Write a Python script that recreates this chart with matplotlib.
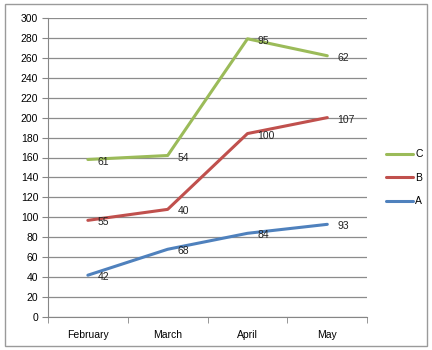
import numpy as np
import matplotlib as mpl
mpl.use('Agg')
import matplotlib.pyplot as plt

#------------------ Data ----------------------
months = ['February', 'March', 'April', 'May']
a_vals = [42, 68, 84, 93]
b_vals = [55, 40, 100, 107]
c_vals = [61, 54, 95, 62]

plt.rcParams['font.family'] = ['Liberation Sans', 'DejaVu Sans']

#------------------ Figure Setup ----------------------
fig = plt.figure(figsize=(4.32, 3.5), dpi=100)
fig.patch.set_facecolor('white')
# outer chart border
fig.add_artist(plt.Rectangle((0.012, 0.012), 0.976, 0.976, transform=fig.transFigure,
                             fill=False, edgecolor='#9a9a9a', lw=1.0))
ax = fig.add_axes([0.111, 0.094, 0.739, 0.855])

x = np.arange(len(months))
a_top = np.array(a_vals)
b_top = a_top + np.array(b_vals)
c_top = b_top + np.array(c_vals)

series = [('C', c_top, c_vals, '#9BBB59'),
          ('B', b_top, b_vals, '#C0504D'),
          ('A', a_top, a_vals, '#4F81BD')]

for name, ys, labs, col in series:
    ax.plot(x, ys, color=col, lw=2.2, label=name, solid_capstyle='round')
    for xi, yi, lab in zip(x, ys, labs):
        ax.annotate(str(lab), (xi, yi), xytext=(7, -1.5), textcoords='offset points',
                    ha='left', va='center', fontsize=7.5, color='#222222')

#Axis setup
ax.set_xlim(-0.5, 3.5)
ax.set_ylim(0, 300)
ax.set_yticks(np.arange(0, 301, 20))
ax.set_xticks(x)
ax.set_xticklabels(months)
ax.set_xticks(np.arange(-0.5, 3.6, 1), minor=True)
ax.tick_params(axis='x', which='major', length=0, labelsize=7.5, pad=9)
ax.tick_params(axis='x', which='minor', length=4, color='#868686', direction='out')
ax.tick_params(axis='y', length=4, color='#868686', labelsize=7.5, pad=3)
ax.grid(axis='y', color='#8c8c8c', lw=0.9)
ax.set_axisbelow(True)
for s in ['top', 'right']:
    ax.spines[s].set_visible(False)
for s in ['left', 'bottom']:
    ax.spines[s].set_color('#868686')

#Legend
ax.legend(loc='center left', bbox_to_anchor=(1.03, 0.465), frameon=False, fontsize=7.5,
          handlelength=2.6, handletextpad=0.2, labelspacing=1.3)

plt.savefig('out.png', dpi=100)
